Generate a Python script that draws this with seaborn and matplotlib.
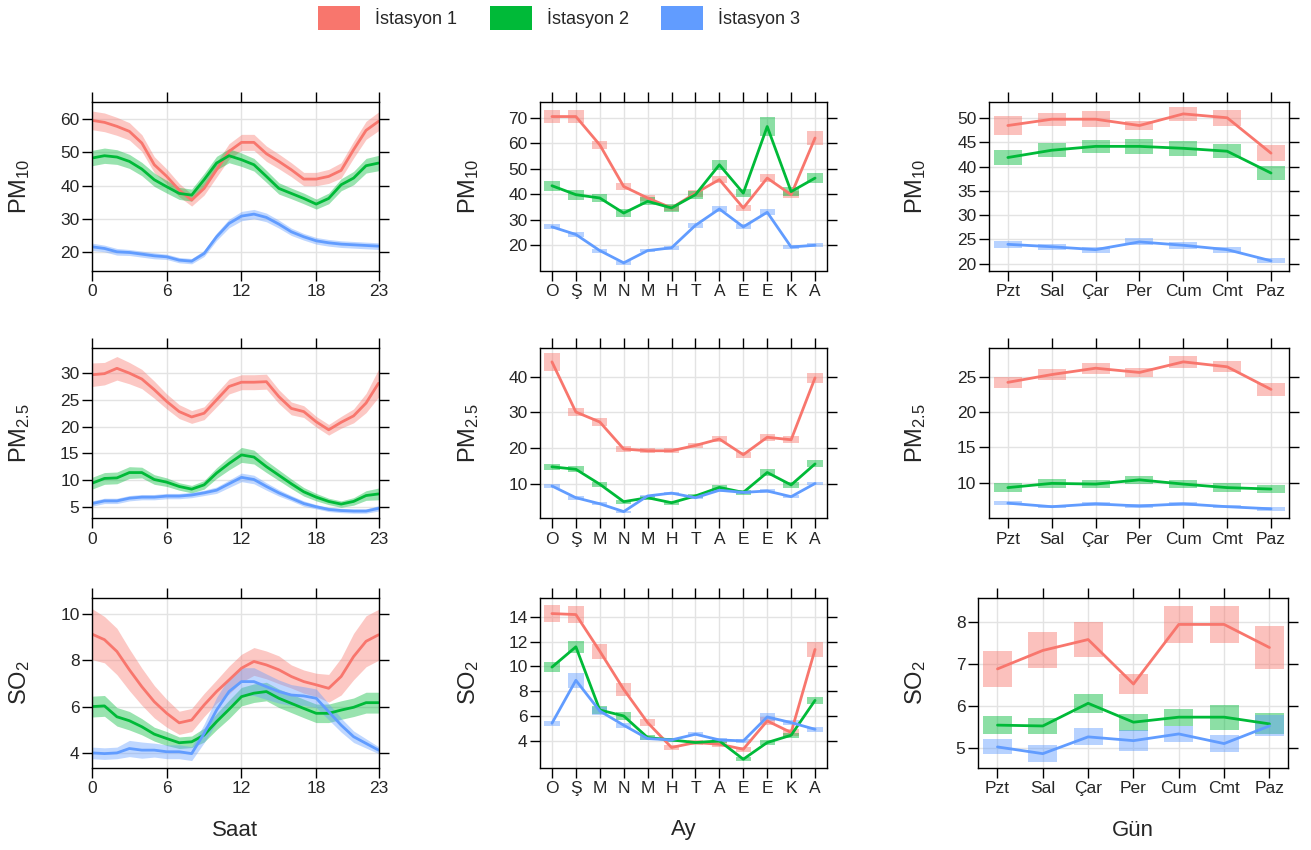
import numpy as np
import pandas as pd
import matplotlib.pyplot as plt
import seaborn as sns
from matplotlib.patches import Patch

# Istasyon isimleri ve renkleri
istasyonlar = ['İstasyon 1', 'İstasyon 2', 'İstasyon 3']
renkler = ['#F8766D', '#00BA38', '#619CFF']

saatler = list(range(24))
aylar = ['O', 'Ş', 'M', 'N', 'M', 'H', 'T', 'A', 'E', 'E', 'K', 'A']
gunler = ['Pzt', 'Sal', 'Çar', 'Per', 'Cum', 'Cmt', 'Paz']

# =========================
# PM10
# =========================
pm10_saat_1 = [59.6, 59.0, 57.8, 56.3, 52.8, 46.3, 42.8, 38.7, 35.7, 39.2, 44.8, 50.3,
               53.0, 53.0, 49.6, 47.3, 44.8, 42.0, 42.0, 42.8, 44.6, 50.8, 56.6, 59.3]
pm10_saat_2 = [48.3, 49.0, 48.6, 47.3, 45.0, 41.8, 39.7, 37.7, 37.2, 41.8, 46.8, 49.0,
               47.8, 46.3, 42.8, 39.2, 37.7, 36.2, 34.5, 36.2, 40.3, 42.3, 46.0, 46.8]
pm10_saat_3 = [21.7, 21.2, 20.2, 20.0, 19.5, 19.0, 18.7, 17.7, 17.4, 19.7, 24.7, 28.7,
               30.9, 31.5, 30.5, 28.5, 26.2, 24.7, 23.5, 22.9, 22.5, 22.3, 22.1, 21.9]
pm10_saat_ci1 = [2.8, 2.8, 2.7, 2.6, 2.5, 2.4, 2.2, 2.0, 1.8, 2.0, 2.2, 2.3,
                 2.4, 2.4, 2.3, 2.2, 2.1, 2.0, 2.0, 2.1, 2.3, 2.5, 2.7, 2.8]
pm10_saat_ci2 = [2.3, 2.3, 2.2, 2.1, 2.0, 2.0, 1.9, 1.8, 1.8, 1.9, 2.0, 2.1,
                 2.0, 1.9, 1.8, 1.7, 1.6, 1.6, 1.5, 1.6, 1.8, 2.0, 2.2, 2.3]
pm10_saat_ci3 = [1.1, 1.0, 1.0, 0.9, 0.9, 0.9, 0.8, 0.8, 0.8, 0.9, 1.1, 1.3,
                 1.4, 1.4, 1.3, 1.2, 1.1, 1.0, 1.0, 1.0, 1.0, 1.0, 1.0, 1.0]

pm10_ay_1 = [70.4, 70.4, 59.3, 43.0, 38.5, 34.6, 40.4, 45.7, 34.6, 46.3, 39.8, 62.0]
pm10_ay_2 = [43.3, 39.8, 38.5, 32.6, 37.2, 34.6, 39.8, 51.5, 40.4, 66.5, 41.0, 46.3]
pm10_ay_3 = [27.2, 24.2, 17.9, 13.1, 17.9, 19.0, 27.8, 34.2, 27.2, 32.9, 19.3, 20.0]
pm10_ay_ci1 = [2.6, 2.6, 1.6, 1.4, 1.3, 1.2, 1.4, 1.5, 1.3, 1.5, 1.4, 2.6]
pm10_ay_ci2 = [2.0, 2.0, 1.6, 1.4, 1.5, 1.4, 1.6, 2.0, 1.5, 3.9, 1.8, 2.0]
pm10_ay_ci3 = [1.0, 1.0, 0.8, 0.7, 0.7, 0.8, 1.0, 1.2, 1.0, 1.2, 0.8, 0.8]

pm10_gun_1 = [48.5, 49.8, 49.8, 48.5, 50.9, 50.1, 42.8]
pm10_gun_2 = [41.9, 43.4, 44.2, 44.2, 43.8, 43.2, 38.7]
pm10_gun_3 = [24.0, 23.5, 22.9, 24.5, 23.8, 22.9, 20.6]
pm10_gun_ci1 = [2.0, 1.3, 1.6, 1.0, 1.5, 1.7, 1.7]
pm10_gun_ci2 = [1.5, 1.4, 1.4, 1.5, 1.5, 1.5, 1.5]
pm10_gun_ci3 = [0.7, 0.6, 0.6, 0.7, 0.7, 0.6, 0.5]

# =========================
# PM2.5
# =========================
pm25_saat_1 = [29.7, 29.9, 30.9, 30.0, 28.9, 26.9, 24.7, 22.8, 21.8, 22.5, 25.0, 27.5,
               28.3, 28.3, 28.4, 25.6, 23.4, 22.8, 20.9, 19.4, 20.8, 22.0, 24.4, 28.1]
pm25_saat_2 = [9.4, 10.3, 10.4, 11.4, 11.4, 10.1, 9.6, 8.8, 8.3, 9.1, 11.3, 13.1,
               14.7, 14.3, 12.5, 10.9, 9.3, 7.8, 6.8, 6.0, 5.5, 6.0, 7.1, 7.4]
pm25_saat_3 = [5.6, 6.1, 6.1, 6.6, 6.8, 6.8, 7.0, 7.0, 7.2, 7.6, 8.1, 9.3,
               10.5, 10.1, 8.8, 7.6, 6.6, 5.6, 5.0, 4.5, 4.3, 4.2, 4.2, 4.7]
pm25_saat_ci1 = [2.2, 2.1, 2.2, 2.0, 1.8, 1.6, 1.4, 1.3, 1.2, 1.2, 1.3, 1.4,
                 1.4, 1.4, 1.4, 1.3, 1.2, 1.1, 1.0, 1.0, 1.1, 1.3, 1.8, 2.6]
pm25_saat_ci2 = [1.1, 1.1, 1.1, 1.1, 1.0, 0.9, 0.8, 0.7, 0.7, 0.8, 1.0, 1.2,
                 1.4, 1.3, 1.1, 1.0, 0.9, 0.8, 0.7, 0.6, 0.6, 0.7, 0.9, 1.1]
pm25_saat_ci3 = [0.5, 0.5, 0.5, 0.5, 0.5, 0.5, 0.5, 0.5, 0.5, 0.5, 0.6, 0.7,
                 0.8, 0.8, 0.7, 0.6, 0.5, 0.5, 0.4, 0.4, 0.4, 0.4, 0.4, 0.5]

pm25_ay_1 = [44.2, 30.1, 27.3, 19.7, 19.2, 19.2, 20.7, 22.5, 18.1, 23.0, 22.3, 39.7]
pm25_ay_2 = [14.7, 14.0, 9.8, 4.9, 6.0, 4.6, 6.5, 8.9, 7.5, 13.1, 9.6, 15.5]
pm25_ay_3 = [9.3, 6.0, 4.3, 2.1, 6.5, 7.3, 6.0, 8.1, 7.5, 7.9, 6.3, 10.0]
pm25_ay_ci1 = [2.5, 1.2, 1.0, 0.8, 0.7, 0.7, 0.8, 0.9, 0.8, 1.0, 1.0, 1.5]
pm25_ay_ci2 = [0.9, 0.8, 0.7, 0.6, 0.6, 0.6, 0.6, 0.8, 0.7, 1.0, 0.8, 1.0]
pm25_ay_ci3 = [0.5, 0.5, 0.4, 0.3, 0.4, 0.4, 0.4, 0.5, 0.5, 0.5, 0.4, 0.5]

pm25_gun_1 = [24.2, 25.3, 26.2, 25.6, 27.1, 26.4, 23.2]
pm25_gun_2 = [9.3, 9.9, 9.8, 10.4, 9.8, 9.3, 9.1]
pm25_gun_3 = [7.1, 6.6, 7.0, 6.7, 7.0, 6.6, 6.3]
pm25_gun_ci1 = [0.8, 0.8, 0.8, 0.7, 0.8, 0.8, 0.9]
pm25_gun_ci2 = [0.6, 0.6, 0.6, 0.6, 0.6, 0.6, 0.6]
pm25_gun_ci3 = [0.25, 0.25, 0.25, 0.25, 0.25, 0.25, 0.25]

# =========================
# SO2
# =========================
so2_saat_1 = [9.13, 8.89, 8.38, 7.59, 6.86, 6.21, 5.71, 5.30, 5.42, 6.07, 6.65, 7.15,
              7.66, 7.95, 7.80, 7.59, 7.30, 7.08, 6.94, 6.79, 7.30, 8.16, 8.82, 9.10]
so2_saat_2 = [6.00, 6.03, 5.56, 5.39, 5.13, 4.81, 4.62, 4.44, 4.48, 4.77, 5.35, 5.88,
              6.43, 6.58, 6.65, 6.36, 6.14, 5.92, 5.71, 5.71, 5.85, 5.97, 6.17, 6.17]
so2_saat_3 = [4.00, 3.97, 4.00, 4.19, 4.12, 4.12, 4.05, 4.05, 3.97, 4.84, 5.85, 6.65,
              7.08, 7.08, 6.86, 6.65, 6.50, 6.46, 6.36, 5.78, 5.20, 4.70, 4.41, 4.12]
so2_saat_ci1 = [1.1, 1.0, 1.0, 0.9, 0.8, 0.7, 0.6, 0.5, 0.5, 0.5, 0.5, 0.6,
                0.6, 0.6, 0.6, 0.6, 0.5, 0.5, 0.5, 0.6, 0.8, 1.0, 1.1, 1.1]
so2_saat_ci2 = [0.45, 0.45, 0.4, 0.4, 0.35, 0.3, 0.3, 0.25, 0.25, 0.3, 0.35, 0.4,
                0.4, 0.4, 0.4, 0.4, 0.4, 0.4, 0.4, 0.4, 0.4, 0.4, 0.45, 0.45]
so2_saat_ci3 = [0.25, 0.25, 0.25, 0.35, 0.35, 0.3, 0.3, 0.3, 0.3, 0.4, 0.55, 0.6,
                0.6, 0.6, 0.55, 0.5, 0.45, 0.4, 0.4, 0.35, 0.3, 0.25, 0.2, 0.15]

so2_ay_1 = [14.27, 14.19, 11.23, 8.14, 5.45, 3.44, 3.84, 3.70, 3.30, 5.59, 4.65, 11.37]
so2_ay_2 = [9.94, 11.58, 6.47, 5.99, 4.24, 4.05, 3.84, 3.97, 2.49, 3.84, 4.43, 7.25]
so2_ay_3 = [5.40, 8.87, 6.39, 5.24, 4.16, 4.05, 4.51, 4.05, 3.97, 5.91, 5.45, 4.91]
so2_ay_ci1 = [0.7, 0.7, 0.6, 0.5, 0.3, 0.2, 0.2, 0.2, 0.2, 0.3, 0.3, 0.6]
so2_ay_ci2 = [0.4, 0.5, 0.3, 0.3, 0.2, 0.15, 0.15, 0.15, 0.15, 0.2, 0.2, 0.3]
so2_ay_ci3 = [0.2, 0.6, 0.3, 0.2, 0.15, 0.15, 0.15, 0.15, 0.15, 0.3, 0.2, 0.2]

so2_gun_1 = [6.88, 7.32, 7.58, 6.52, 7.94, 7.94, 7.39]
so2_gun_2 = [5.54, 5.52, 6.06, 5.61, 5.73, 5.73, 5.57]
so2_gun_3 = [5.02, 4.86, 5.26, 5.17, 5.33, 5.10, 5.52]
so2_gun_ci1 = [0.42, 0.43, 0.41, 0.23, 0.44, 0.44, 0.52]
so2_gun_ci2 = [0.22, 0.20, 0.22, 0.20, 0.20, 0.30, 0.25]
so2_gun_ci3 = [0.18, 0.20, 0.20, 0.25, 0.20, 0.20, 0.25]

# =========================
# Gorunum ayarlari
# =========================
sns.set_style('white')
plt.rcParams['font.family'] = ['Liberation Sans', 'DejaVu Sans']
plt.rcParams['mathtext.default'] = 'regular'

W, H = 1311, 850
fig = plt.figure(figsize=(W / 100, H / 100), dpi=100)


def eksen(sol, ust, sag, alt):
    # piksel kutusunu figur koordinatina cevir
    return fig.add_axes([sol / W, 1 - alt / H, (sag - sol) / W, (alt - ust) / H])


def uzun_tablo(x, seriler):
    return pd.DataFrame({
        'x': np.tile(x, 3),
        'deger': np.concatenate(seriler),
        'istasyon': np.repeat(istasyonlar, len(x)),
    })


def ciz(ax, x, seriler, araliklar, tur):
    x = np.array(x)
    for s, ci, renk in zip(seriler, araliklar, renkler):
        s, ci = np.array(s), np.array(ci)
        if tur == 'saat':
            ax.fill_between(x, s - ci, s + ci, color=renk, alpha=0.4, lw=0)
        else:
            ax.bar(x, 2 * ci, bottom=s - ci, width=0.64, color=renk, alpha=0.45, lw=0)
    sns.lineplot(data=uzun_tablo(x, seriler), x='x', y='deger', hue='istasyon',
                 hue_order=istasyonlar, palette=renkler, legend=False,
                 linewidth=2, ax=ax)


satirlar = [(102, 270.5), (348, 518), (598, 767.5)]
ylabel_x = [20, 469, 916]

paneller = [
    # (satir, sutun, etiket, seriler, araliklar, ylim, yticks)
    (0, 0, r'PM$_{10}$', [pm10_saat_1, pm10_saat_2, pm10_saat_3],
     [pm10_saat_ci1, pm10_saat_ci2, pm10_saat_ci3], (14.6, 65.1), [20, 30, 40, 50, 60]),
    (0, 1, r'PM$_{10}$', [pm10_ay_1, pm10_ay_2, pm10_ay_3],
     [pm10_ay_ci1, pm10_ay_ci2, pm10_ay_ci3], (10.1, 76.1), [20, 30, 40, 50, 60, 70]),
    (0, 2, r'PM$_{10}$', [pm10_gun_1, pm10_gun_2, pm10_gun_3],
     [pm10_gun_ci1, pm10_gun_ci2, pm10_gun_ci3], (18.6, 53.35), [20, 25, 30, 35, 40, 45, 50]),
    (1, 0, r'PM$_{2.5}$', [pm25_saat_1, pm25_saat_2, pm25_saat_3],
     [pm25_saat_ci1, pm25_saat_ci2, pm25_saat_ci3], (2.9, 34.7), [5, 10, 15, 20, 25, 30]),
    (1, 1, r'PM$_{2.5}$', [pm25_ay_1, pm25_ay_2, pm25_ay_3],
     [pm25_ay_ci1, pm25_ay_ci2, pm25_ay_ci3], (0.3, 48.1), [10, 20, 30, 40]),
    (1, 2, r'PM$_{2.5}$', [pm25_gun_1, pm25_gun_2, pm25_gun_3],
     [pm25_gun_ci1, pm25_gun_ci2, pm25_gun_ci3], (5.0, 29.06), [10, 15, 20, 25]),
    (2, 0, r'SO$_2$', [so2_saat_1, so2_saat_2, so2_saat_3],
     [so2_saat_ci1, so2_saat_ci2, so2_saat_ci3], (3.37, 10.69), [4, 6, 8, 10]),
    (2, 1, r'SO$_2$', [so2_ay_1, so2_ay_2, so2_ay_3],
     [so2_ay_ci1, so2_ay_ci2, so2_ay_ci3], (1.82, 15.53), [4, 6, 8, 10, 12, 14]),
    (2, 2, r'SO$_2$', [so2_gun_1, so2_gun_2, so2_gun_3],
     [so2_gun_ci1, so2_gun_ci2, so2_gun_ci3], (4.53, 8.57), [5, 6, 7, 8]),
]

for satir, sutun, etiket, seriler, araliklar, ylim, yticks in paneller:
    ust, alt = satirlar[satir]
    if sutun == 0:
        sol, sag = 92, 378.5
    elif sutun == 1:
        sol, sag = 540, 827
    else:
        sol, sag = (978, 1288) if satir == 2 else (989, 1289)
    ax = eksen(sol, ust, sag, alt)

    if sutun == 0:
        ciz(ax, saatler, seriler, araliklar, 'saat')
        ax.set_xlim(0, 23)
        ax.set_xticks([0, 6, 12, 18, 23])
        xlabel = 'Saat'
    elif sutun == 1:
        x = list(range(1, 13))
        ciz(ax, x, seriler, araliklar, 'kutu')
        ax.set_xlim(0.5, 12.5)
        ax.set_xticks(x)
        ax.set_xticklabels(aylar)
        xlabel = 'Ay'
    else:
        x = list(range(1, 8))
        ciz(ax, x, seriler, araliklar, 'kutu')
        ax.set_xlim(0.57, 7.41)
        ax.set_xticks(x)
        ax.set_xticklabels(gunler)
        xlabel = 'Gün'

    ax.set_ylim(*ylim)
    ax.set_yticks(yticks)
    ax.grid(True, color='#e3e3e3', lw=1)
    ax.set_axisbelow(True)
    for sp in ax.spines.values():
        sp.set_color('black')
        sp.set_linewidth(1)
    ax.tick_params(direction='out', length=7, width=1, color='black',
                   top=True, right=True, bottom=True, left=True,
                   labelsize=12.5, pad=3)
    ax.tick_params(axis='y', pad=2)

    ax.set_ylabel(etiket, fontsize=17)
    ax.yaxis.label.set_va('center')
    ax.yaxis.set_label_coords((ylabel_x[sutun] - sol) / (sag - sol), 0.5)

    if satir == 2:
        ax.set_xlabel(xlabel, fontsize=16)
        ax.xaxis.label.set_va('center')
        ax.xaxis.set_label_coords(0.5, (alt - 830) / (alt - ust))
    else:
        ax.set_xlabel('')

# =========================
# Ust lejant
# =========================
kutular = [Patch(facecolor=r, edgecolor='none') for r in renkler]
fig.legend(kutular, istasyonlar, loc='center left', bbox_to_anchor=(318 / W, 1 - 18 / H),
           ncol=3, frameon=False, borderpad=0, borderaxespad=0,
           handlelength=2.33, handleheight=1.67, handletextpad=0.83,
           columnspacing=1.8, prop={'size': 13})

fig.savefig('out.png', dpi=100)
